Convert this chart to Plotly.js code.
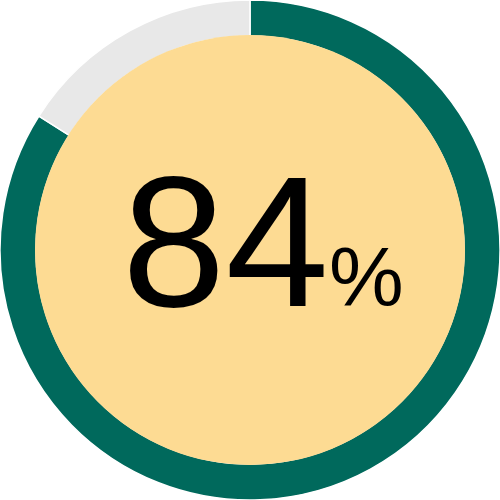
<!DOCTYPE html>
<html><head><meta charset="utf-8">
<script src="https://cdn.plot.ly/plotly-3.0.1.min.js"></script>
<style>html,body{margin:0;padding:0;background:#fff}</style>
</head><body>
<div id="chart" style="width:500px;height:500px"></div>
<script>
const labels = ["Done", "Remaining"];
const values = [84, 16];
const colors = ["#00695C", "#E8E8E8"];
const centerValue = "84";
const centerUnit = "%";

Plotly.newPlot("chart", [{
  type: "pie",
  labels: labels,
  values: values,
  hole: 0.856,
  sort: false,
  direction: "clockwise",
  rotation: 0,
  textinfo: "none",
  hoverinfo: "none",
  marker: {colors: colors, line: {color: "#ffffff", width: 1.5}},
  showlegend: false
}], {
  width: 500, height: 500,
  margin: {l: 0, r: 0, t: 0, b: 0, pad: 0},
  paper_bgcolor: "#ffffff",
  shapes: [{
    type: "circle", xref: "paper", yref: "paper",
    x0: 0.07, x1: 0.93, y0: 0.07, y1: 0.93,
    fillcolor: "#FDDB93", line: {width: 0}, layer: "above"
  }],
  annotations: [{
    xref: "paper", yref: "paper", x: 0.525, y: 0.517,
    showarrow: false,
    text: centerValue + "<span style='font-size:84px'>" + centerUnit + "</span>",
    font: {family: "Liberation Sans, Arial, sans-serif", size: 186, color: "#000000"}
  }]
}, {displayModeBar: false, staticPlot: true});
</script>
</body></html>
